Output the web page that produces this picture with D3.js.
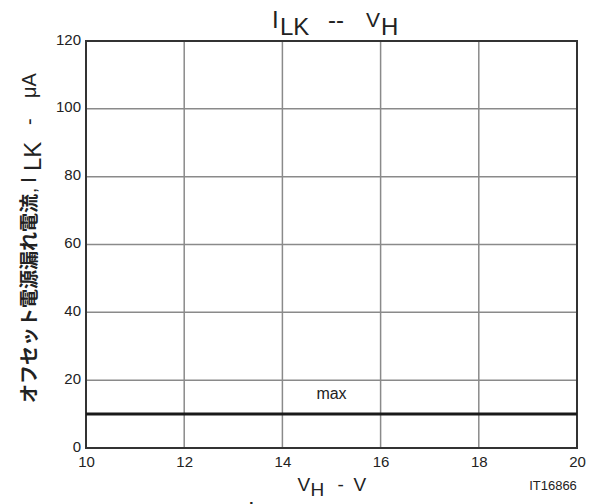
<!DOCTYPE html>
<html>
<head>
<meta charset="utf-8">
<script src="https://cdn.jsdelivr.net/npm/d3@7"></script>
<style>
  html, body { margin: 0; padding: 0; background: #fff; }
  svg { display: block; }
  text { font-family: "Liberation Sans", Arial, sans-serif; fill: #222; }
</style>
</head>
<body>
<svg id="chart" width="597" height="504"></svg>
<script>
// Offset supply leakage current vs. supply voltage (max curve)
const xTicks = [10, 12, 14, 16, 18, 20];
const yTicks = [0, 20, 40, 60, 80, 100, 120];
const maxVoltage = [10, 20];
const maxLeakage = [10, 10];
const curveLabel = "max";
const chartCode = "IT16866";

const svg = d3.select("#chart");
const margin = { left: 86, right: 20, top: 41, bottom: 56 };
const W = 597, H = 504;

const x = d3.scaleLinear().domain([10, 20]).range([margin.left, W - margin.right]);
const y = d3.scaleLinear().domain([0, 120]).range([H - margin.bottom, margin.top]);

// grid
const grid = svg.append("g");
grid.selectAll("line.v").data(xTicks.slice(1, -1)).join("line")
  .attr("x1", d => x(d)).attr("x2", d => x(d))
  .attr("y1", y(0)).attr("y2", y(120))
  .attr("stroke", "#8a8a8a").attr("stroke-width", 1.5);
grid.selectAll("line.h").data(yTicks.slice(1, -1)).join("line")
  .attr("x1", x(10)).attr("x2", x(20))
  .attr("y1", d => y(d)).attr("y2", d => y(d))
  .attr("stroke", "#8a8a8a").attr("stroke-width", 1.5);

// axes (labels only; frame drawn separately)
const xAxis = svg.append("g").attr("transform", `translate(0,${y(0)})`)
  .call(d3.axisBottom(x).tickValues(xTicks).tickSize(0).tickPadding(8));
const yAxis = svg.append("g").attr("transform", `translate(${x(10)},0)`)
  .call(d3.axisLeft(y).tickValues(yTicks).tickSize(0).tickPadding(5));
[xAxis, yAxis].forEach(a => {
  a.attr("font-size", 15).attr("font-family", "Liberation Sans, Arial, sans-serif");
  a.select(".domain").remove();
  a.selectAll("text").attr("fill", "#333");
});
yAxis.selectAll("text").attr("dy", "0.2em");

// frame
svg.append("rect")
  .attr("x", x(10)).attr("y", y(120))
  .attr("width", x(20) - x(10)).attr("height", y(0) - y(120))
  .attr("fill", "none").attr("stroke", "#333").attr("stroke-width", 2);

// max curve
const pts = maxVoltage.map((v, i) => [v, maxLeakage[i]]);
svg.append("path")
  .attr("d", d3.line().x(d => x(d[0])).y(d => y(d[1]))(pts))
  .attr("fill", "none").attr("stroke", "#1a1a1a").attr("stroke-width", 3);

svg.append("text").attr("x", x(15.0)).attr("y", y(14.3))
  .attr("text-anchor", "middle").attr("font-size", 16).attr("fill", "#222")
  .text(curveLabel);

// "I_LK -- V_H" caption with subscripts, anchored at its left edge
function caption(x0, base) {
  const t = svg.append("text").attr("y", base).attr("font-size", 24);
  t.append("tspan").attr("x", x0).text("I");
  t.append("tspan").attr("x", x0 + 8).attr("dy", 7).text("LK");
  t.append("tspan").attr("x", x0 + 56).attr("dy", -7).text("--");
  t.append("tspan").attr("x", x0 + 94).attr("dy", -1).attr("font-size", 21).text("V");
  t.append("tspan").attr("x", x0 + 109).attr("dy", 8).text("H");
  return t;
}
caption(272, 28);

// x-axis label, centred under the plot
const xc = (x(10) + x(20)) / 2;
const xl = svg.append("text").attr("y", 491).attr("font-size", 19);
xl.append("tspan").attr("x", xc - 34).text("V");
xl.append("tspan").attr("x", xc - 21).attr("dy", 5).text("H");
xl.append("tspan").attr("x", xc + 6).attr("dy", -5).text("-");
xl.append("tspan").attr("x", xc + 22).text("V");

svg.append("text").attr("x", 553).attr("y", 490)
  .attr("text-anchor", "middle").attr("font-size", 13).attr("fill", "#333")
  .text(chartCode);

// y-axis label, running bottom-to-top from y = 403
const yl = svg.append("text")
  .attr("transform", "translate(36,403) rotate(-90)")
  .attr("font-size", 20);
yl.append("tspan").attr("x", 0)
  .attr("font-family", "Noto Sans CJK JP, sans-serif").attr("font-weight", "bold")
  .attr("font-size", 19)
  .text("オフセット電源漏れ電流");
yl.append("tspan").attr("x", 210).attr("font-size", 18).text(",");
yl.append("tspan").attr("x", 220).attr("font-size", 22).text("I");
yl.append("tspan").attr("x", 232).attr("dy", 5).attr("font-size", 24).text("LK");
yl.append("tspan").attr("x", 278).attr("dy", -5).attr("font-size", 20).text("-");
yl.append("tspan").attr("x", 305).attr("font-size", 20).text("μA");

// following caption, running off the bottom edge
caption(248, 519);
</script>
</body>
</html>
